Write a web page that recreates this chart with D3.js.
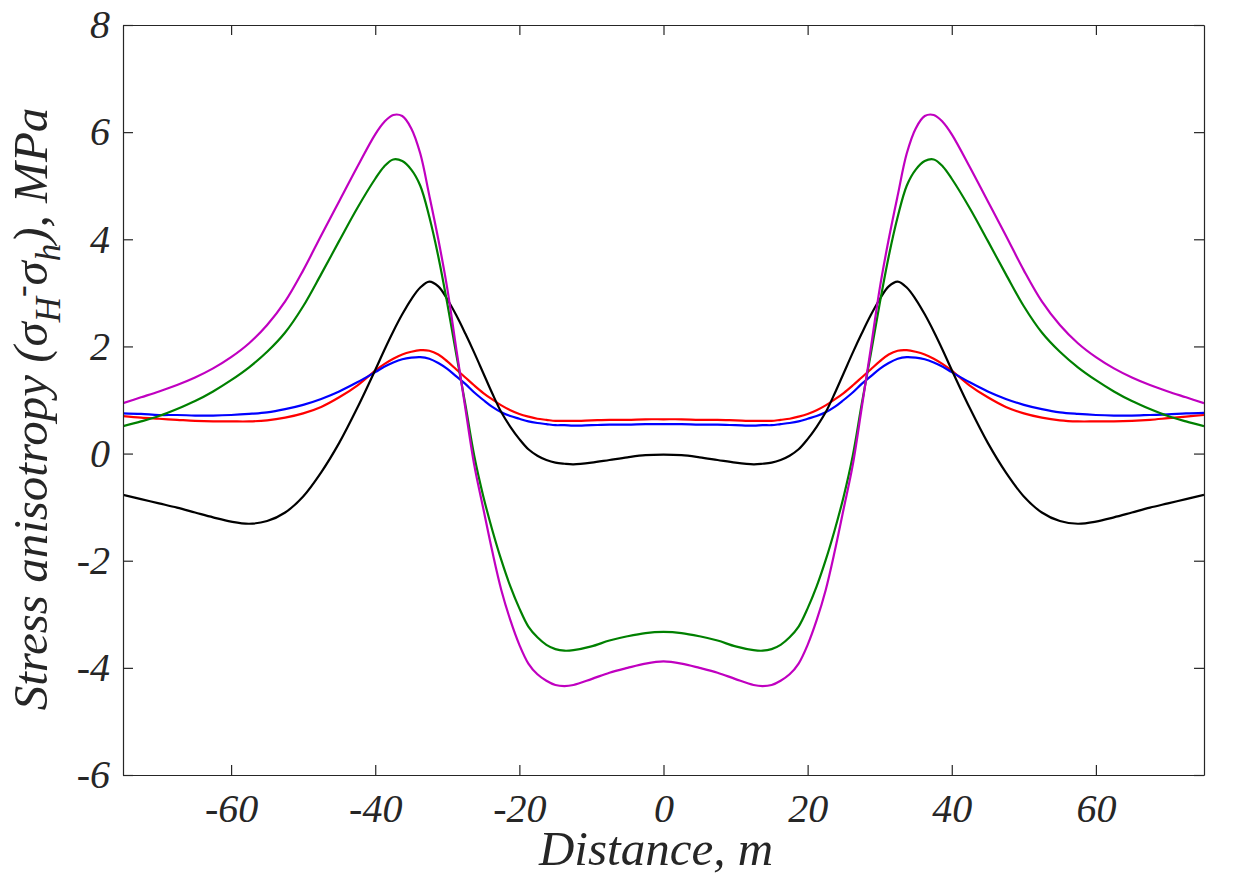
<!DOCTYPE html>
<html>
<head>
<meta charset="utf-8">
<script src="https://cdn.jsdelivr.net/npm/d3@7"></script>
<style>
  body { margin: 0; background: #fff; }
  text { font-family: "Liberation Serif", "DejaVu Serif", serif; font-style: italic; fill: #262626; }
</style>
</head>
<body>
<svg id="chart" width="1237" height="876"></svg>
<script>
// distance along the profile, m
const distance = [-75, -72.5, -70, -67.5, -65, -62.5, -60, -57.5, -55, -52.5, -50, -47.5, -45, -42.5,
  -40, -38.75, -37.5, -36.25, -35, -33.75, -32.5, -31.25, -30, -28.75, -27.5, -26.25, -25, -23.75,
  -22.5, -21.25, -20, -18.75, -17.5, -16.25, -15, -13.75, -12.5, -10, -7.5, -5, -2.5, 0,
  2.5, 5, 7.5, 10, 12.5, 13.75, 15, 16.25, 17.5, 18.75, 20, 21.25, 22.5, 23.75, 25, 26.25, 27.5,
  28.75, 30, 31.25, 32.5, 33.75, 35, 36.25, 37.5, 38.75, 40, 42.5, 45, 47.5, 50, 52.5, 55, 57.5,
  60, 62.5, 65, 67.5, 70, 72.5, 75];

// stress anisotropy, MPa
const magenta = [0.94, 1.05, 1.16, 1.28, 1.42, 1.59, 1.8, 2.06, 2.4, 2.84, 3.42, 4.07, 4.71, 5.35,
  5.96, 6.19, 6.32, 6.3, 6.07, 5.6, 4.82, 4.0, 3.08, 1.95, 0.85, -0.22, -1.03, -1.83,
  -2.55, -3.11, -3.57, -3.92, -4.12, -4.24, -4.32, -4.34, -4.32, -4.21, -4.09, -4.0, -3.92, -3.88,
  -3.92, -4.0, -4.09, -4.21, -4.32, -4.34, -4.32, -4.24, -4.12, -3.92, -3.57, -3.11, -2.55, -1.83, -1.03, -0.22, 0.85,
  1.95, 3.08, 4.0, 4.82, 5.6, 6.07, 6.3, 6.32, 6.19, 5.96, 5.35, 4.71, 4.07, 3.42, 2.84, 2.4, 2.06,
  1.8, 1.59, 1.42, 1.28, 1.16, 1.05, 0.94];
const green = [0.51, 0.6, 0.7, 0.83, 0.98, 1.16, 1.37, 1.61, 1.9, 2.26, 2.75, 3.35, 3.97, 4.58,
  5.13, 5.36, 5.49, 5.46, 5.3, 5.0, 4.42, 3.68, 2.8, 1.85, 0.92, -0.05, -0.8, -1.43,
  -1.99, -2.48, -2.89, -3.23, -3.43, -3.57, -3.65, -3.68, -3.67, -3.6, -3.49, -3.41, -3.35, -3.33,
  -3.35, -3.41, -3.49, -3.6, -3.67, -3.68, -3.65, -3.57, -3.43, -3.23, -2.89, -2.48, -1.99, -1.43, -0.8, -0.05, 0.92,
  1.85, 2.8, 3.68, 4.42, 5.0, 5.3, 5.46, 5.49, 5.36, 5.13, 4.58, 3.97, 3.35, 2.75, 2.26, 1.9, 1.61,
  1.37, 1.16, 0.98, 0.83, 0.7, 0.6, 0.51];
const black = [-0.77, -0.85, -0.93, -1.01, -1.1, -1.19, -1.27, -1.31, -1.26, -1.1, -0.8, -0.35, 0.2, 0.85,
  1.56, 1.93, 2.28, 2.6, 2.88, 3.1, 3.21, 3.12, 2.88, 2.58, 2.24, 1.88, 1.5, 1.12,
  0.77, 0.5, 0.27, 0.08, -0.04, -0.12, -0.17, -0.19, -0.2, -0.17, -0.12, -0.07, -0.03, -0.02,
  -0.03, -0.07, -0.12, -0.17, -0.2, -0.19, -0.17, -0.12, -0.04, 0.08, 0.27, 0.5, 0.77, 1.12, 1.5, 1.88, 2.24,
  2.58, 2.88, 3.12, 3.21, 3.1, 2.88, 2.6, 2.28, 1.93, 1.56, 0.85, 0.2, -0.35, -0.8, -1.1, -1.26, -1.31,
  -1.27, -1.19, -1.1, -1.01, -0.93, -0.85, -0.77];
const red = [0.7, 0.67, 0.65, 0.63, 0.61, 0.6, 0.6, 0.6, 0.62, 0.67, 0.75, 0.87, 1.05, 1.27,
  1.55, 1.67, 1.77, 1.85, 1.9, 1.93, 1.92, 1.85, 1.72, 1.57, 1.42, 1.27, 1.13, 1.01,
  0.9, 0.81, 0.74, 0.69, 0.65, 0.63, 0.61, 0.61, 0.61, 0.62, 0.63, 0.63, 0.64, 0.64,
  0.64, 0.63, 0.63, 0.62, 0.61, 0.61, 0.61, 0.63, 0.65, 0.69, 0.74, 0.81, 0.9, 1.01, 1.13, 1.27, 1.42,
  1.57, 1.72, 1.85, 1.92, 1.93, 1.9, 1.85, 1.77, 1.67, 1.55, 1.27, 1.05, 0.87, 0.75, 0.67, 0.62, 0.6,
  0.6, 0.6, 0.61, 0.63, 0.66, 0.69, 0.72];
const blue = [0.75, 0.74, 0.72, 0.72, 0.71, 0.71, 0.72, 0.74, 0.77, 0.83, 0.91, 1.02, 1.16, 1.33,
  1.52, 1.62, 1.7, 1.76, 1.79, 1.8, 1.77, 1.69, 1.58, 1.44, 1.3, 1.14, 1.0, 0.87,
  0.77, 0.7, 0.65, 0.6, 0.57, 0.55, 0.53, 0.53, 0.52, 0.53, 0.54, 0.54, 0.55, 0.55,
  0.55, 0.54, 0.54, 0.53, 0.52, 0.53, 0.53, 0.55, 0.57, 0.6, 0.65, 0.7, 0.77, 0.87, 1.0, 1.14, 1.3,
  1.44, 1.58, 1.69, 1.77, 1.8, 1.79, 1.76, 1.7, 1.62, 1.52, 1.33, 1.16, 1.02, 0.91, 0.83, 0.77, 0.74,
  0.72, 0.71, 0.71, 0.72, 0.73, 0.75, 0.76];

const xTicks = [-60, -40, -20, 0, 20, 40, 60];
const yTicks = [-6, -4, -2, 0, 2, 4, 6, 8];

const series = [
  { name: "red", color: "#ff0000", values: red },
  { name: "blue", color: "#0000ff", values: blue },
  { name: "black", color: "#000000", values: black },
  { name: "green", color: "#008000", values: green },
  { name: "magenta", color: "#c000c0", values: magenta },
];

const svg = d3.select("#chart");
const plotLeft = 123, plotRight = 1204, plotTop = 25, plotBottom = 775;

const x = d3.scaleLinear().domain([-75, 75]).range([plotLeft, plotRight]);
const y = d3.scaleLinear().domain([-6, 8]).range([plotBottom, plotTop]);

const line = d3.line()
  .x((d) => x(d[0]))
  .y((d) => y(d[1]))
  .curve(d3.curveCatmullRom.alpha(0.5));

const plot = svg.append("g");
plot.append("clipPath").attr("id", "clip")
  .append("rect")
  .attr("x", plotLeft).attr("y", plotTop)
  .attr("width", plotRight - plotLeft).attr("height", plotBottom - plotTop);

plot.selectAll("path.series")
  .data(series)
  .enter()
  .append("path")
  .attr("class", "series")
  .attr("clip-path", "url(#clip)")
  .attr("fill", "none")
  .attr("stroke", (s) => s.color)
  .attr("stroke-width", 2.2)
  .attr("d", (s) => line(distance.map((dx, i) => [dx, s.values[i]])));

// axes: ticks pointing inwards on all four sides, like the MATLAB box
const tickLen = 10;
const fmt = (d) => String(d); // plain hyphen, not the unicode minus
const axisStyle = (g) => {
  g.attr("font-family", null).attr("font-size", null);
  g.select(".domain").attr("stroke", "#262626").attr("stroke-width", 1.2);
  g.selectAll(".tick line").attr("stroke", "#262626").attr("stroke-width", 1.2);
  g.selectAll(".tick text").style("font-size", "40px").attr("fill", "#262626");
};

svg.append("g")
  .attr("transform", `translate(0,${plotBottom})`)
  .call(d3.axisBottom(x).tickValues(xTicks).tickFormat(fmt)
    .tickSizeInner(-tickLen).tickSizeOuter(0).tickPadding(19))
  .call(axisStyle);

svg.append("g")
  .attr("transform", `translate(0,${plotTop})`)
  .call(d3.axisTop(x).tickValues(xTicks).tickSizeInner(-tickLen).tickSizeOuter(0).tickFormat(""))
  .call(axisStyle);

svg.append("g")
  .attr("transform", `translate(${plotLeft},0)`)
  .call(d3.axisLeft(y).tickValues(yTicks).tickFormat(fmt)
    .tickSizeInner(-tickLen).tickSizeOuter(0).tickPadding(13))
  .call(axisStyle);

svg.append("g")
  .attr("transform", `translate(${plotRight},0)`)
  .call(d3.axisRight(y).tickValues(yTicks).tickSizeInner(-tickLen).tickSizeOuter(0).tickFormat(""))
  .call(axisStyle);

// axis titles
svg.append("text")
  .attr("x", 656)
  .attr("y", 865)
  .attr("text-anchor", "middle")
  .style("font-size", "49px")
  .text("Distance, m");

const yTitle = svg.append("text")
  .attr("transform", "translate(47,409) rotate(-90)")
  .attr("text-anchor", "middle")
  .style("font-size", "49px");
yTitle.append("tspan").text("Stress anisotropy (σ");
yTitle.append("tspan").attr("dy", 13).style("font-size", "35px").text("H");
yTitle.append("tspan").attr("dy", -27).style("font-size", "35px").text("-");
yTitle.append("tspan").attr("dy", 14).text("σ");
yTitle.append("tspan").attr("dy", 13).style("font-size", "35px").text("h");
yTitle.append("tspan").attr("dy", -13).text("), MPa");
</script>
</body>
</html>
